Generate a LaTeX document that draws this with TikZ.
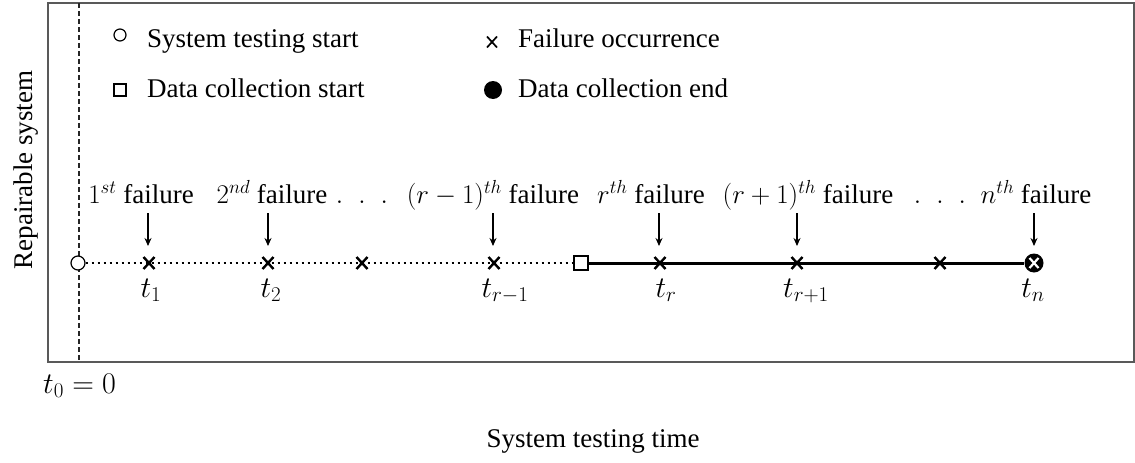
\RequirePackage{fix-cm}
\documentclass[tikz,border=0pt]{standalone}
\usepackage{fontspec}
\setmainfont{Liberation Serif}
\setsansfont{Liberation Sans}
\usetikzlibrary{arrows.meta}
\begin{document}
\begin{tikzpicture}[x=1pt,y=-1pt,
  lbl/.style={inner sep=0pt,anchor=base,font=\fontsize{27}{30}\selectfont},
  mlbl/.style={inner sep=0pt,anchor=base,font=\fontsize{30}{33}\selectfont},
  lgd/.style={inner sep=0pt,anchor=base west,font=\fontsize{27}{30}\selectfont},
  frameline/.style={draw=black!65,line width=2pt},
  dashline/.style={draw=black!85,line width=1.2pt,dash pattern=on 5pt off 3pt},
  crossmark/.style={line width=2.4pt},
  openmark/.style={circle,draw,line width=1.2pt,fill=white,minimum size=14pt,inner sep=0pt},
  sqmark/.style={rectangle,draw,line width=1.2pt,fill=white,minimum size=14pt,inner sep=0pt},
  endmark/.style={circle,fill=black,minimum size=19pt,inner sep=0pt},
  failarrow/.style={line width=1.1pt,-{Stealth[length=8pt,width=7pt]}},
]
\useasboundingbox (0,0) rectangle (1135,463);
% frame
\draw[frameline] (48,3) -- (1134,3) -- (1134,362) -- (48,362) -- cycle;
\coordinate (vt) at (79,3);
\coordinate (vb) at (79,362);
\draw[dashline] (vt) -- (vb);
% axis labels
\node[lbl,rotate=90,anchor=base] (ylab) at (32,170) {Repairable system};
\node[lbl] (xlab) at (593,447) {System testing time};
\node[mlbl,anchor=base west] (t0) at (43,393) {$t_0 = 0$};
% legend
\node[openmark,minimum size=12pt] (lg1) at (120,35) {};
\node[lgd] (lg1t) at (147,47) {System testing start};
\node[sqmark,minimum size=12pt] (lg2) at (120,90) {};
\node[lgd] (lg2t) at (147,97) {Data collection start};
\coordinate (lg3) at (492,42);
\draw[line width=1.7pt] ([shift={(-5,-5.5)}]lg3) -- ([shift={(5,5.5)}]lg3);
\draw[line width=1.7pt] ([shift={(-5,5.5)}]lg3) -- ([shift={(5,-5.5)}]lg3);
\node[lgd] (lg3t) at (518,47) {Failure occurrence};
\node[circle,fill=black,minimum size=18pt,inner sep=0pt] (lg4) at (493,90) {};
\node[lgd] (lg4t) at (518,97) {Data collection end};
% timeline
\node[openmark] (start) at (78,263) {};
\node[sqmark] (dstart) at (581,263) {};
\node[endmark] (tend) at (1034,263) {};
\draw[line width=2.6pt,dash pattern=on 2.6pt off 3.4pt] (start) -- (dstart);
\draw[line width=3pt] (dstart) -- (tend);
\foreach \n/\x in {f1/149,f2/268,f3/362,f4/494,f5/660,f6/797,f7/940}{
  \coordinate (\n) at (\x,263);
  \draw[crossmark] ([shift={(-5.5,-6)}]\n) -- ([shift={(5.5,6)}]\n);
  \draw[crossmark] ([shift={(-5.5,6)}]\n) -- ([shift={(5.5,-6)}]\n);
}
\draw[white,line width=2.2pt] ([shift={(-4.5,-5)}]tend.center) -- ([shift={(4.5,5)}]tend.center);
\draw[white,line width=2.2pt] ([shift={(-4.5,5)}]tend.center) -- ([shift={(4.5,-5)}]tend.center);
% failure labels
\node[lbl] (l1) at (141,203) {$1^{st}$ failure};
\node[lbl] (l2) at (272,203) {$2^{nd}$ failure};
\node[lbl] (ld1) at (362,203) {$.\;\;.\;\;.$};
\node[lbl] (l4) at (493,203) {$(r-1)^{th}$ failure};
\node[lbl] (l5) at (651,203) {$r^{th}$ failure};
\node[lbl] (l6) at (808,203) {$(r+1)^{th}$ failure};
\node[lbl] (ld2) at (940,203) {$.\;\;.\;\;.$};
\node[lbl] (l8) at (1036,203) {$n^{th}$ failure};
% arrows
\foreach \n/\x in {a1/148,a2/268,a4/493,a5/659,a6/797,a8/1034}{
  \coordinate (\n s) at (\x,213);
  \coordinate (\n e) at (\x,246);
  \draw[failarrow] (\n s) -- (\n e);
}
% time labels
\node[mlbl] (t1) at (151,297) {$t_1$};
\node[mlbl] (t2) at (271,297) {$t_2$};
\node[mlbl] (t3) at (505,297) {$t_{r-1}$};
\node[mlbl] (t4) at (666,297) {$t_r$};
\node[mlbl] (t5) at (806,297) {$t_{r+1}$};
\node[mlbl] (t6) at (1033,297) {$t_n$};
\end{tikzpicture}
\end{document}
